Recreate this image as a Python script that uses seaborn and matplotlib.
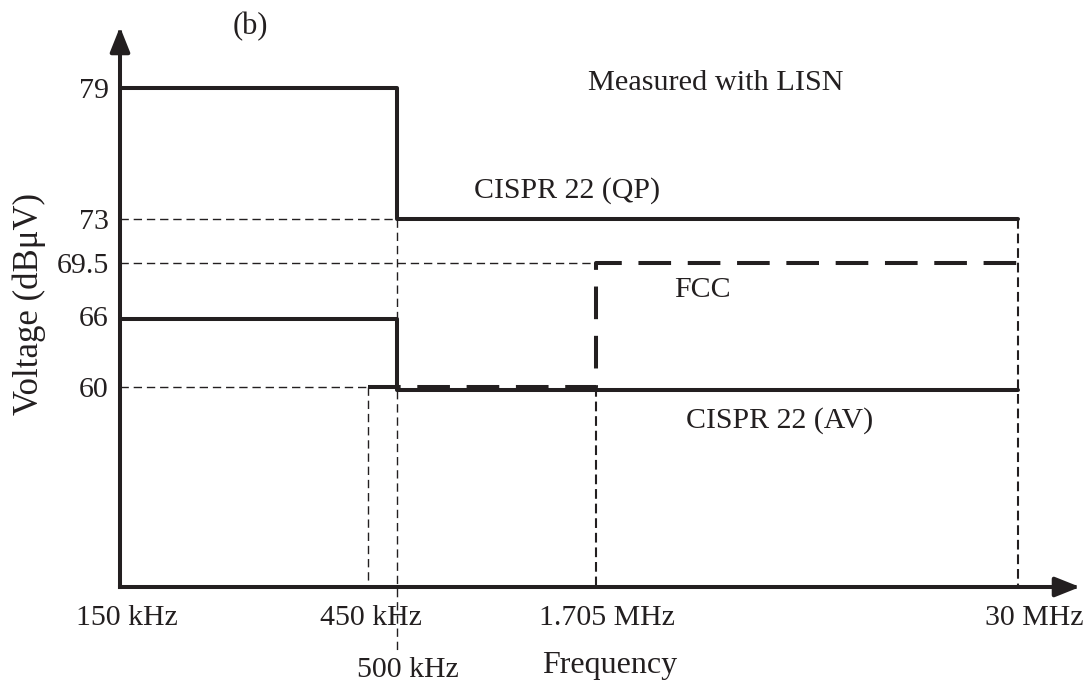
import numpy as np
import pandas as pd
import matplotlib
matplotlib.use("Agg")
import matplotlib.pyplot as plt
import seaborn as sns
from matplotlib.transforms import ScaledTranslation

# ---------------- data ----------------
freq_ticks_khz = [150, 450, 500, 1705, 30000]
freq_tick_labels = ["150 kHz", "450 kHz", "500 kHz", "1.705 MHz", "30 MHz"]
level_ticks = [60, 66, 69.5, 73, 79]
level_tick_labels = ["60", "66", "69.5", "73", "79"]

qp_freq = [150, 500, 30000]      # CISPR 22 quasi-peak limit (kHz)
qp_level = [79, 73, 73]          # dBuV
av_freq = [150, 500, 30000]      # CISPR 22 average limit
av_level = [66, 60, 60]
fcc_freq = [450, 1705, 30000]    # FCC limit
fcc_level = [60, 69.5, 69.5]

# ---------------- schematic (non-proportional) axis layout ----------------
x_anchor_val = [150, 450, 500, 1705, 30000, 40000]
x_anchor_pos = [0, 248, 277, 476, 898, 960]
y_anchor_val = [50, 60, 66, 69.5, 73, 79, 82]
y_anchor_pos = [0, 200, 271, 324, 368, 499, 560]


def make_pw(xp, fp):
    xp = np.asarray(xp, float)
    fp = np.asarray(fp, float)
    s0 = (fp[1] - fp[0]) / (xp[1] - xp[0])
    s1 = (fp[-1] - fp[-2]) / (xp[-1] - xp[-2])

    def f(v):
        v = np.asarray(v, float)
        out = np.interp(v, xp, fp)
        out = np.where(v < xp[0], fp[0] + (v - xp[0]) * s0, out)
        out = np.where(v > xp[-1], fp[-1] + (v - xp[-1]) * s1, out)
        return out
    return f


fx, fx_inv = make_pw(x_anchor_val, x_anchor_pos), make_pw(x_anchor_pos, x_anchor_val)
fy, fy_inv = make_pw(y_anchor_val, y_anchor_pos), make_pw(y_anchor_pos, y_anchor_val)

# ---------------- style ----------------
sns.set_style("white")
plt.rcParams["font.family"] = ["Liberation Serif", "DejaVu Serif"]
plt.rcParams["lines.scale_dashes"] = False
plt.rcParams["text.color"] = "#231f20"

W, H = 1088, 689
fig = plt.figure(figsize=(W / 100, H / 100), dpi=100)
ax = fig.add_axes([120 / W, 102 / H, 960 / W, 560 / H])
ax.set_xscale("function", functions=(fx, fx_inv))
ax.set_yscale("function", functions=(fy, fy_inv))
ax.set_xlim(x_anchor_val[0], x_anchor_val[-1])
ax.set_ylim(y_anchor_val[0], y_anchor_val[-1])

K = "#231f20"
LW = 2.9
thin = dict(color=K, lw=1.0, ls=(0, (6, 3.5)), clip_on=False, zorder=1)
mid = dict(color=K, lw=1.5, ls=(0, (7, 3.5)), clip_on=False, zorder=1)

# guide lines
ax.plot([qp_freq[0], qp_freq[1]], [qp_level[1], qp_level[1]], **thin)
ax.plot([qp_freq[0], fcc_freq[1]], [fcc_level[1], fcc_level[1]], **thin)
ax.plot([av_freq[0], fcc_freq[0]], [fcc_level[0], fcc_level[0]], **thin)
ax.plot([fcc_freq[0], fcc_freq[0]], [fcc_level[0], y_anchor_val[0]], **thin)
ax.plot([qp_freq[1], qp_freq[1]], [qp_level[1], 46.8], **thin)
ax.plot([fcc_freq[1], fcc_freq[1]], [fcc_level[0], y_anchor_val[0]], **mid)
ax.plot([qp_freq[2], qp_freq[2]], [qp_level[2], y_anchor_val[0]], **mid)

# limit lines
sns.lineplot(x=qp_freq, y=qp_level, ax=ax, color=K, lw=LW, drawstyle="steps-post",
             sort=False, estimator=None, zorder=3)
sns.lineplot(x=av_freq, y=av_level, ax=ax, color=K, lw=LW, drawstyle="steps-post",
             sort=False, estimator=None, zorder=3)
ax.lines[-1].set_transform(ax.transData + ScaledTranslation(0, -3 / 100, fig.dpi_scale_trans))
sns.lineplot(x=fcc_freq, y=fcc_level, ax=ax, color=K, lw=LW, drawstyle="steps-post",
             sort=False, estimator=None, linestyle=(0, (23.5, 12)), zorder=4)

# axes with arrows
for s in ax.spines.values():
    s.set_visible(False)
arrow_kw = dict(arrowstyle="-|>,head_length=0.75,head_width=0.3", mutation_scale=20,
                lw=LW, color=K, shrinkA=0, shrinkB=0, capstyle="projecting")
ax.annotate("", xy=(0, 1), xytext=(0, 0), xycoords="axes fraction", arrowprops=arrow_kw)
ax.annotate("", xy=(1, 0), xytext=(0, 0), xycoords="axes fraction", arrowprops=arrow_kw)

# ticks
ax.minorticks_off()
ax.set_xticks(freq_ticks_khz, freq_tick_labels)
ax.set_yticks(level_ticks, level_tick_labels)
ax.tick_params(axis="both", length=0, labelsize=21.5, colors=K)
ax.tick_params(axis="x", pad=13)
ax.tick_params(axis="y", pad=8)
x_label_shift = [(7, 0), (3, 0), (11, -52), (11, 0), (16, 0)]
for lab, (dx, dy) in zip(ax.get_xticklabels(), x_label_shift):
    lab.set_transform(lab.get_transform() + ScaledTranslation(dx / 100, dy / 100, fig.dpi_scale_trans))

ax.grid(False)
ax.set_facecolor("white")

# texts
def ftext(x, y, s, **kw):
    fig.text(x / W, 1 - y / H, s, ha="center", va="center", color=K, **kw)

ftext(250, 27, "(b)", fontsize=22)
ftext(716, 83, "Measured with LISN", fontsize=21.8)
ftext(567, 191, "CISPR 22 (QP)", fontsize=21.5)
ftext(702, 290, "FCC", fontsize=21.5)
ftext(780, 421, "CISPR 22 (AV)", fontsize=21.5)
ftext(610, 665, "Frequency", fontsize=23)
ftext(29, 304, "Voltage (dBμV)", fontsize=25, rotation=90)

fig.savefig("out.png", dpi=100, facecolor="white")
